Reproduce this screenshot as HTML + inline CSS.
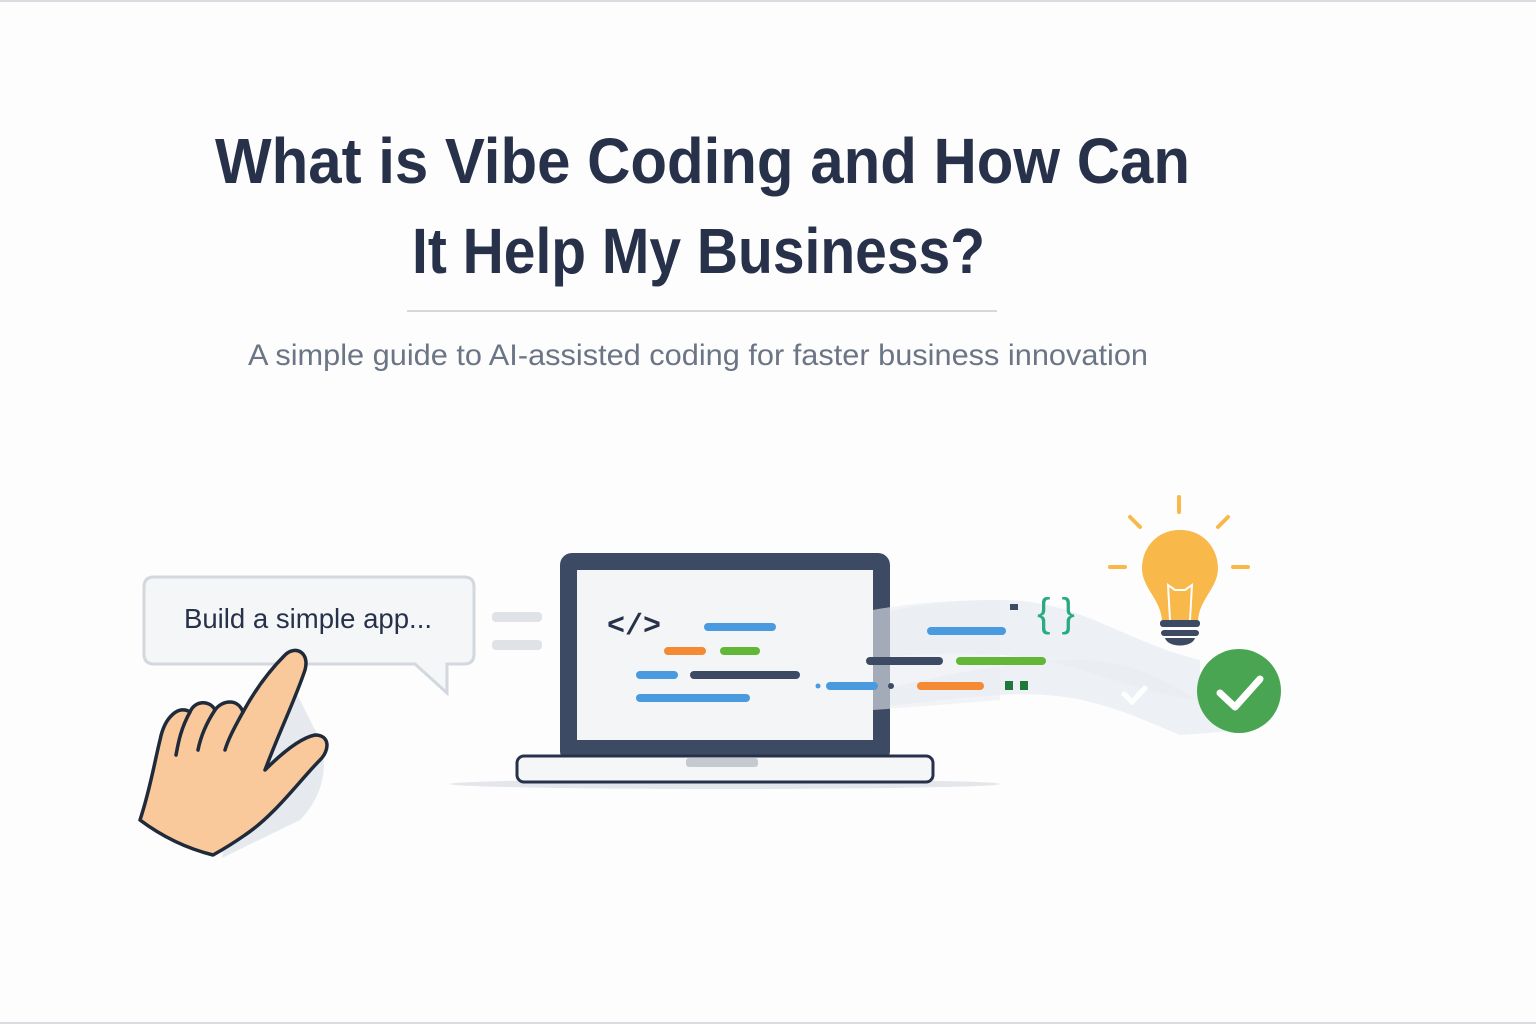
<!DOCTYPE html>
<html><head><meta charset="utf-8"><style>
html,body{margin:0;padding:0;background:#fdfdfd;}
svg{display:block}
</style></head><body>
<svg width="1536" height="1024" viewBox="0 0 1536 1024" xmlns="http://www.w3.org/2000/svg">
<rect width="1536" height="1024" fill="#fdfdfd"/>
<line x1="0" y1="1" x2="1536" y2="1" stroke="#d8dbe0" stroke-width="2"/>
<line x1="0" y1="1023" x2="1536" y2="1023" stroke="#d8dbe0" stroke-width="2"/>
<g font-family="Liberation Sans, sans-serif" fill="#27324a" font-weight="bold">
<text x="215" y="183" font-size="64" textLength="975" lengthAdjust="spacingAndGlyphs">What is Vibe Coding and How Can</text>
<text x="412" y="273" font-size="64" textLength="573" lengthAdjust="spacingAndGlyphs">It Help My Business?</text>
</g>
<line x1="407" y1="311" x2="997" y2="311" stroke="#d4d7dc" stroke-width="2"/>
<text x="248" y="365" font-family="Liberation Sans, sans-serif" font-size="30" fill="#6b7585" textLength="900" lengthAdjust="spacingAndGlyphs">A simple guide to AI-assisted coding for faster business innovation</text>

<!-- wisps -->
<path d="M790 650 C850 620 900 600 1000 600 C1080 600 1120 640 1200 660 L1200 700 C1120 690 1080 660 1000 655 C930 650 870 660 790 660 Z" fill="#e9edf2" opacity="0.8"/>
<path d="M820 700 C900 690 980 660 1080 660 C1150 660 1190 700 1250 730 L1180 735 C1120 710 1080 690 1000 695 C920 700 880 712 820 705 Z" fill="#e9edf2" opacity="0.8"/>

<!-- bubble -->
<path d="M154 577 H464 Q474 577 474 587 V654 Q474 664 464 664 H447 V693 L415 664 H154 Q144 664 144 654 V587 Q144 577 154 577 Z" fill="#f4f6f8" stroke="#d3d8de" stroke-width="3"/>
<text x="184" y="628" font-family="Liberation Sans, sans-serif" font-size="28" fill="#27324a" textLength="248" lengthAdjust="spacingAndGlyphs">Build a simple app...</text>
<rect x="492" y="612" width="50" height="10" rx="4" fill="#dfe3e8"/>
<rect x="492" y="640" width="50" height="10" rx="4" fill="#dfe3e8"/>

<!-- hand -->
<path d="M222 858 L300 820 C320 800 330 770 320 740 L290 680 L240 720 Z" fill="#e6e9ee"/>
<path d="M140 820 C150 790 155 760 160 740 C165 715 180 705 190 712 C195 700 210 700 215 710 C222 700 238 698 243 712 C255 690 270 670 285 655 C295 645 310 652 305 670 C295 700 280 730 265 770 C280 755 300 738 315 735 C330 735 330 750 320 760 C300 780 275 815 245 835 C235 842 222 850 213 855 C185 848 160 835 140 820 Z" fill="#f9c89b" stroke="#1f2a3a" stroke-width="3.5" stroke-linejoin="round"/>
<path d="M190 712 C180 730 178 745 176 755 M215 710 C205 725 200 740 198 750 M243 712 C233 730 228 740 225 750" fill="none" stroke="#1f2a3a" stroke-width="3.5" stroke-linecap="round"/>

<!-- laptop -->
<ellipse cx="725" cy="784" rx="275" ry="5" fill="#e3e6ea"/>
<rect x="560" y="553" width="330" height="210" rx="12" fill="#3d4a63"/>
<rect x="577" y="570" width="296" height="170" fill="#f3f5f7"/>
<rect x="517" y="756" width="416" height="26" rx="7" fill="#f4f6f8" stroke="#27324a" stroke-width="3"/>
<rect x="686" y="758" width="72" height="9" rx="3" fill="#c5cad1"/>
<text x="607" y="634" font-family="Liberation Mono, monospace" font-size="30" font-weight="bold" fill="#27324a">&lt;/&gt;</text>
<path d="M873 610 C900 605 940 600 1000 600 L1000 700 C940 705 900 708 873 710 Z" fill="#e9edf2" opacity="0.6"/>
<g stroke-linecap="round" stroke-width="8">
<line x1="708" y1="627" x2="772" y2="627" stroke="#4a9ae0"/>
<line x1="668" y1="651" x2="702" y2="651" stroke="#f58a35"/>
<line x1="724" y1="651" x2="756" y2="651" stroke="#62b836"/>
<line x1="640" y1="675" x2="674" y2="675" stroke="#4a9ae0"/>
<line x1="694" y1="675" x2="796" y2="675" stroke="#3d4a63"/>
<line x1="640" y1="698" x2="746" y2="698" stroke="#4a9ae0"/>
<line x1="931" y1="631" x2="1002" y2="631" stroke="#4a9ae0"/>
<line x1="870" y1="661" x2="939" y2="661" stroke="#3d4a63"/>
<line x1="960" y1="661" x2="1042" y2="661" stroke="#62b836"/>
<line x1="830" y1="686" x2="874" y2="686" stroke="#4a9ae0"/>
<line x1="921" y1="686" x2="980" y2="686" stroke="#f58a35"/>
</g>
<circle cx="818" cy="686" r="2.5" fill="#4a9ae0"/>
<circle cx="891" cy="686" r="3" fill="#3d4a63"/>
<rect x="1005" y="681" width="8" height="9" fill="#1f7a3a"/>
<rect x="1020" y="681" width="8" height="9" fill="#1f7a3a"/>
<rect x="1010" y="604" width="8" height="6" fill="#3d4a63"/>
<text x="1056" y="626" font-family="Liberation Sans, sans-serif" font-size="40" fill="#2aaa80" text-anchor="middle">{ }</text>

<!-- bulb -->
<g stroke="#f8b84a" stroke-width="4" stroke-linecap="round">
<line x1="1179" y1="497" x2="1179" y2="512"/>
<line x1="1130" y1="517" x2="1140" y2="527"/>
<line x1="1228" y1="517" x2="1218" y2="527"/>
<line x1="1110" y1="567" x2="1125" y2="567"/>
<line x1="1233" y1="567" x2="1248" y2="567"/>
</g>
<path d="M1180 530 C1205 530 1218 550 1218 568 C1218 588 1200 598 1198 620 H1162 C1160 598 1142 588 1142 568 C1142 550 1155 530 1180 530 Z" fill="#f8b84a"/>
<path d="M1170 620 L1168 585 L1175 590 L1185 590 L1192 585 L1190 620" fill="none" stroke="#fff" stroke-width="2"/>
<rect x="1160" y="620" width="40" height="7" rx="3" fill="#3d4a63"/>
<rect x="1161" y="630" width="38" height="6" rx="3" fill="#3d4a63"/>
<path d="M1165 638 H1195 C1192 648 1168 648 1165 638 Z" fill="#3d4a63"/>

<!-- check -->
<circle cx="1239" cy="691" r="42" fill="#4aa552"/>
<path d="M1220 693 L1235 707 L1260 679" fill="none" stroke="#fff" stroke-width="7" stroke-linecap="round" stroke-linejoin="round"/>
<path d="M1124 694 L1132 702 L1145 688" fill="none" stroke="#fff" stroke-width="5" stroke-linecap="round"/>
</svg>
</body></html>
